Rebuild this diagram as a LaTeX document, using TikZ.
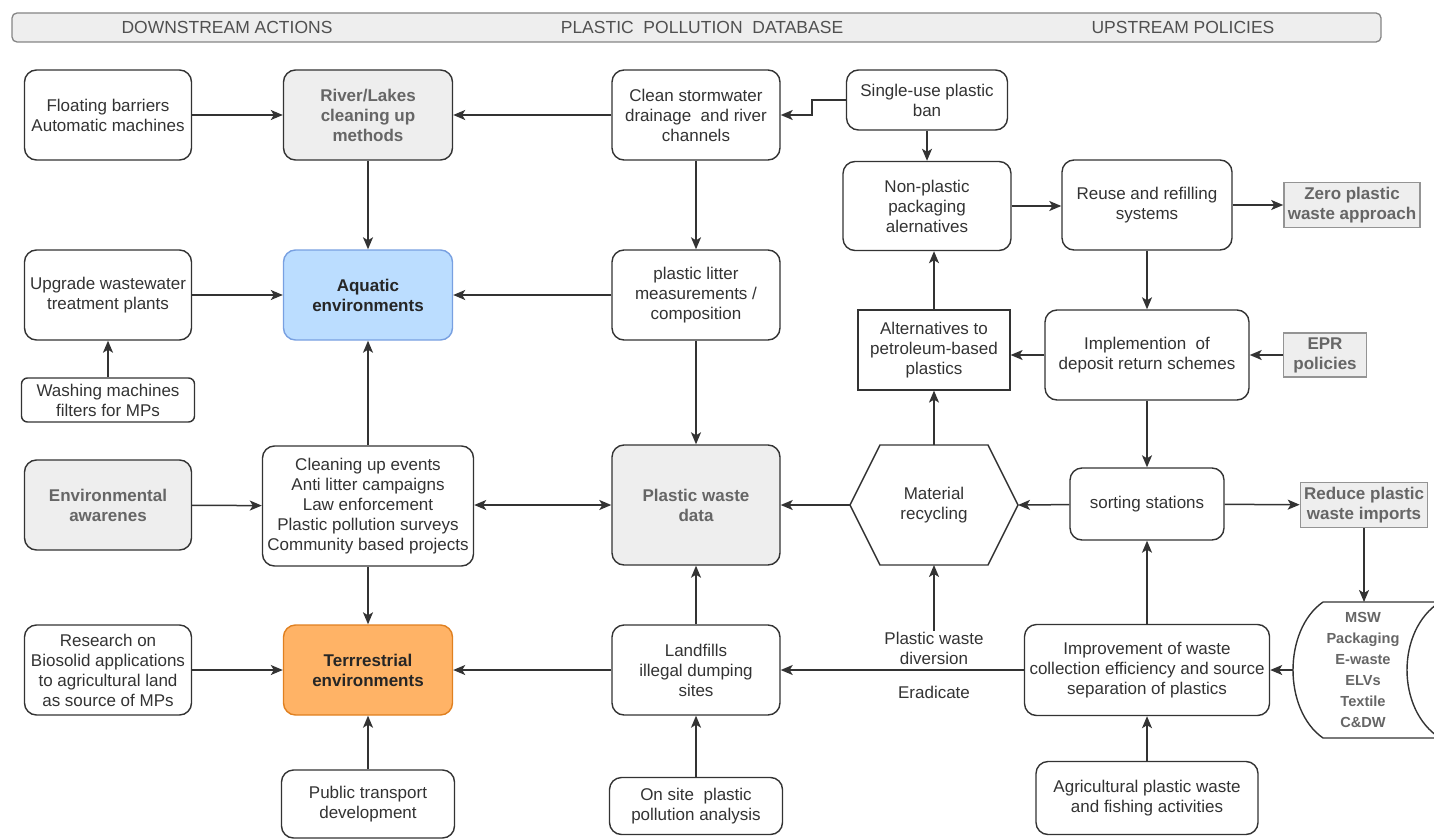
\documentclass[tikz,border=0pt]{standalone}
\usepackage{fontspec}
\setmainfont{Liberation Sans}
\usetikzlibrary{arrows.meta}
\definecolor{linegrey}{RGB}{51,51,51}
\definecolor{panelgrey}{RGB}{238,238,238}
\definecolor{labelgrey}{RGB}{102,102,102}
\definecolor{headgrey}{RGB}{80,80,80}
\definecolor{aquablue}{RGB}{187,221,255}
\definecolor{aquaedge}{RGB}{120,160,225}
\definecolor{terraorange}{RGB}{255,179,102}
\definecolor{terraedge}{RGB}{224,128,32}

\tikzset{
  box/.style={draw=linegrey, line width=1.4pt, rounded corners=12pt, fill=white,
    align=center, inner sep=0pt, text=linegrey, font=\fontsize{17}{20}\selectfont},
  greybox/.style={box, fill=panelgrey, text=labelgrey, font=\fontsize{17}{20}\selectfont\bfseries},
  tagbox/.style={greybox, rounded corners=0pt, draw=labelgrey!70, line width=1.6pt},
  plain/.style={align=center, inner sep=1pt, text=linegrey, font=\fontsize{17}{20}\selectfont},
  heading/.style={text=headgrey, font=\fontsize{17.5}{20}\selectfont},
  flow/.style={draw=linegrey, line width=1.5pt, -{Stealth[length=12pt,width=10pt,inset=3pt]}},
  twoway/.style={draw=linegrey, line width=1.5pt, {Stealth[length=12pt,width=10pt,inset=3pt]}-{Stealth[length=12pt,width=10pt,inset=3pt]}},
}

\begin{document}
\begin{tikzpicture}[x=1pt,y=-1pt]
  \useasboundingbox (0,0) rectangle (1434,840);

  % header bar
  \draw[rounded corners=5pt, fill=panelgrey, draw=labelgrey!80, line width=1.3pt] (12,13) rectangle (1381,42);
  \node[heading] (downhead) at (227,27) {DOWNSTREAM ACTIONS};
  \node[heading] (datahead) at (702,27) {PLASTIC\ \ POLLUTION\ \ DATABASE};
  \node[heading] (uphead) at (1183,27) {UPSTREAM POLICIES};

  % downstream actions
  \node[box, minimum width=167, minimum height=90] (float) at (108,115) {Floating barriers\\Automatic machines};
  \node[box, minimum width=167, minimum height=90] (upgrade) at (108,295) {Upgrade wastewater\\treatment plants};
  \node[box, rounded corners=6pt, minimum width=173, minimum height=44] (washing) at (108,400) {Washing machines\\filters for MPs};
  \node[greybox, minimum width=167, minimum height=90] (aware) at (108,505) {Environmental\\awarenes};
  \node[box, minimum width=167, minimum height=90] (research) at (108,670) {Research on\\Biosolid applications\\to agricultural land\\as source of MPs};

  \node[greybox, minimum width=169, minimum height=90] (river) at (368,115) {River/Lakes\\cleaning up\\methods};
  \node[box, fill=aquablue, draw=aquaedge, text=black!85, font=\fontsize{17}{20}\selectfont\bfseries,
    minimum width=169, minimum height=90] (aquatic) at (368,295) {Aquatic\\environments};
  \node[box, minimum width=211, minimum height=120] (events) at (368,506) {Cleaning up events\\Anti litter campaigns\\Law enforcement\\Plastic pollution surveys\\Community based projects};
  \node[box, fill=terraorange, draw=terraedge, text=black!85, font=\fontsize{17}{20}\selectfont\bfseries,
    minimum width=169, minimum height=90] (terra) at (368,670) {Terrrestrial\\environments};
  \node[box, minimum width=173, minimum height=68] (transport) at (368,804) {Public transport\\development};

  % plastic pollution database
  \node[box, minimum width=168, minimum height=90] (clean) at (696,115) {Clean stormwater\\drainage\ \ and river\\channels};
  \node[box, minimum width=168, minimum height=90] (litter) at (696,295) {plastic litter\\measurements /\\composition};
  \node[greybox, minimum width=168, minimum height=120] (wastedata) at (696,505) {Plastic waste\\data};
  \node[box, minimum width=168, minimum height=90] (landfill) at (696,670) {Landfills\\illegal dumping\\sites};
  \node[box, minimum width=173, minimum height=57] (onsite) at (696,806) {On site\ \ plastic\\pollution analysis};

  % upstream policies
  \node[box, minimum width=161, minimum height=60] (ban) at (927,100) {Single-use plastic\\ban};
  \node[box, minimum width=168, minimum height=89] (nonplastic) at (927,206) {Non-plastic\\packaging\\alernatives};
  \node[box, rounded corners=0pt, line width=1.2pt, minimum width=152, minimum height=80] (alt) at (934,350) {Alternatives to\\petroleum-based\\plastics};

  \draw[draw=linegrey, line width=1.4pt] (850,505) -- (880,445) -- (988,445) -- (1018,505) -- (988,565) -- (880,565) -- cycle;
  \node[plain] (recyc) at (934,505) {Material\\recycling};
  \coordinate (recyc-n) at (934,445);
  \coordinate (recyc-s) at (934,565);
  \coordinate (recyc-w) at (850,505);
  \coordinate (recyc-e) at (1018,505);

  \node[plain] (divert) at (934,648) {Plastic waste\\diversion};
  \node[plain] (eradicate) at (934,692) {Eradicate};

  \node[box, minimum width=170, minimum height=90] (reuse) at (1147,205) {Reuse and refilling\\systems};
  \node[box, minimum width=204, minimum height=90] (impl) at (1147,355) {Implemention\ \ of\\deposit return schemes};
  \node[box, minimum width=154, minimum height=72] (sorting) at (1147,504) {sorting stations};
  \node[box, minimum width=245, minimum height=91] (improve) at (1147,670) {Improvement of waste\\collection efficiency and source\\separation of plastics};
  \node[box, minimum width=222, minimum height=73] (agri) at (1147,798) {Agricultural plastic waste\\and fishing activities};

  \node[tagbox, minimum width=136, minimum height=45] (zero) at (1352,205) {Zero plastic\\waste approach};
  \node[tagbox, minimum width=83, minimum height=44] (epr) at (1325,355) {EPR\\policies};
  \node[tagbox, minimum width=127, minimum height=45] (reduce) at (1364,505) {Reduce plastic\\waste imports};

  \draw[draw=linegrey, line width=1.4pt] (1323,602) -- (1440,602) .. controls (1396,630) and (1396,710) .. (1440,738)
    -- (1323,738) .. controls (1283,710) and (1283,630) .. (1323,602);
  \node[plain, text=labelgrey, font=\fontsize{14.6}{21}\selectfont\bfseries] (msw) at (1363,670) {MSW\\Packaging\\E-waste\\ELVs\\Textile\\C\&DW};
  \coordinate (msw-n) at (1364,602);
  \coordinate (msw-w) at (1293,670);

  % connectors, downstream side
  \draw[flow] (float) -- (river);
  \draw[flow] (clean) -- (river);
  \draw[flow] (river) -- (aquatic);
  \draw[flow] (upgrade) -- (aquatic);
  \draw[flow] (washing) -- (upgrade);
  \draw[flow] (litter) -- (aquatic);
  \draw[flow] (events.north) -- (events.north |- aquatic.south);
  \draw[flow] (aware) -- (events);
  \draw[twoway] (events.east |- wastedata) -- (wastedata.west);
  \draw[flow] (events.south) -- (events.south |- terra.north);
  \draw[flow] (research) -- (terra);
  \draw[flow] (transport) -- (terra);
  \draw[flow] (landfill) -- (terra);

  % connectors, database column
  \draw[flow] (clean) -- (litter);
  \draw[flow] (litter) -- (wastedata);
  \draw[flow] (landfill) -- (wastedata);
  \draw[flow] (onsite) -- (landfill);

  % connectors, upstream side
  \draw[flow] (ban.west) -- ++(-34,0) |- (clean.east);
  \draw[flow] (ban) -- (nonplastic);
  \draw[flow] (nonplastic.east) -- (nonplastic.east -| reuse.west);
  \draw[flow] (reuse) -- (zero);
  \draw[flow] (reuse) -- (impl);
  \draw[flow] (epr) -- (impl);
  \draw[flow] (impl.west) -- (impl.west -| alt.east);
  \draw[flow] (alt.north) -- (alt.north |- nonplastic.south);
  \draw[flow] (recyc-n) -- (alt.south);
  \draw[flow] (impl) -- (sorting);
  \draw[flow] (sorting) -- (recyc-e);
  \draw[flow] (recyc-w) -- (wastedata.east);
  \draw[flow] (sorting) -- (reduce);
  \draw[flow] (reduce.south) -- (msw-n);
  \draw[flow] (msw-w) -- (improve.east);
  \draw[flow] (improve) -- (sorting);
  \draw[flow] (agri) -- (improve);
  \draw[flow] (improve) -- (landfill);
  \draw[flow] (divert.north) -- (recyc-s);
\end{tikzpicture}
\end{document}
